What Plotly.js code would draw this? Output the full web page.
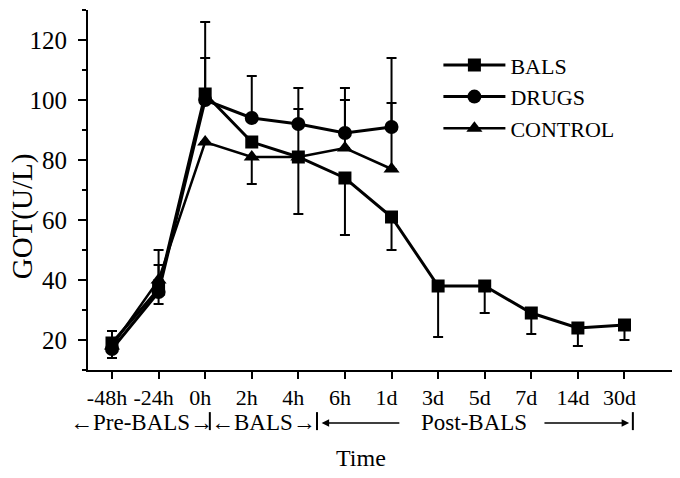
<!DOCTYPE html>
<html>
<head>
<meta charset="utf-8">
<script src="https://cdn.plot.ly/plotly-3.0.1.min.js"></script>
<style>html,body{margin:0;padding:0;background:#fff;}#chart{width:680px;height:478px;}</style>
</head>
<body>
<div id="chart"></div>
<script>
// Time points (x categories)
const categories = ["-48h", "-24h", "0h", "2h", "4h", "6h", "1d", "3d", "5d", "7d", "14d", "30d"];

// GOT (U/L) means
const balsValues    = [19, 37, 102, 86, 81, 74, 61, 38, 38, 29, 24, 25];
const drugsValues   = [17, 36, 100, 94, 92, 89, 91];
const controlValues = [18, 40, 86, 81, 81, 84, 77];

// Error bars (upper / lower extents)
const balsErrUp      = [4, 13, 24, 0, 0, 0, 0, 0, 0, 0, 0, 0];
const balsErrDown    = [5, 0, 0, 0, 19, 19, 11, 17, 9, 7, 6, 5];
const drugsErrUp     = [0, 0, 14, 14, 12, 15, 23];
const drugsErrDown   = [0, 4, 0, 0, 0, 0, 0];
const controlErrUp   = [0, 5, 0, 0, 16, 16, 22];
const controlErrDown = [0, 0, 0, 9, 0, 0, 0];

// Phase labels under the axis
const phaseLabels = ["\u2190Pre-BALS\u2192", "\u2190BALS\u2192", "Post-BALS"];

const FONT = "Liberation Serif, Times New Roman, serif";

function errY(up, down) {
  return {type: "data", symmetric: false, array: up, arrayminus: down,
          color: "#000", thickness: 2, width: 5, visible: true};
}

const traces = [
  {name: "BALS", x: categories.slice(0, balsValues.length), y: balsValues,
   mode: "lines+markers", line: {color: "#000", width: 3},
   marker: {symbol: "square", size: 13, color: "#000"},
   error_y: errY(balsErrUp, balsErrDown)},
  {name: "DRUGS", x: categories.slice(0, drugsValues.length), y: drugsValues,
   mode: "lines+markers", line: {color: "#000", width: 3},
   marker: {symbol: "circle", size: 14, color: "#000"},
   error_y: errY(drugsErrUp, drugsErrDown)},
  {name: "CONTROL", x: categories.slice(0, controlValues.length), y: controlValues,
   mode: "lines+markers", line: {color: "#000", width: 2.5},
   marker: {symbol: "triangle-up", size: 14, color: "#000"},
   error_y: errY(controlErrUp, controlErrDown)}
];

const rowY = -0.147; // paper y of the phase row
const barTop = -0.117, barBot = -0.167;
const bounds = [-0.84, 2.1, 4.4, 11.18];

const shapes = bounds.map(b => ({type: "line", xref: "x", yref: "paper",
  x0: b, x1: b, y0: barTop, y1: barBot, line: {color: "#000", width: 2}}));

const rowFont = {family: FONT, size: 23, color: "#000"};
const annotations = [
  {text: phaseLabels[0], xref: "x", yref: "paper", x: (bounds[0] + bounds[1]) / 2, y: rowY,
   yanchor: "middle", showarrow: false, font: rowFont},
  {text: phaseLabels[1], xref: "x", yref: "paper", x: (bounds[1] + bounds[2]) / 2, y: rowY,
   yanchor: "middle", showarrow: false, font: rowFont},
  {text: phaseLabels[2], xref: "x", yref: "paper", x: 7.78, y: rowY,
   yanchor: "middle", showarrow: false, font: rowFont},
  // long arrows for Post-BALS
  {text: "", xref: "x", yref: "paper", x: 4.5, y: rowY, axref: "x", ax: 6.2, ayref: "pixel", ay: 0,
   showarrow: true, arrowhead: 2, arrowsize: 1, arrowwidth: 1.5, arrowcolor: "#000"},
  {text: "", xref: "x", yref: "paper", x: 11.1, y: rowY, axref: "x", ax: 9.25, ayref: "pixel", ay: 0,
   showarrow: true, arrowhead: 2, arrowsize: 1, arrowwidth: 1.5, arrowcolor: "#000"},
  // y-axis title
  {text: "GOT(U/L)", xref: "paper", yref: "paper", x: -0.113, y: 0.427,
   xanchor: "center", yanchor: "middle", textangle: -90, showarrow: false,
   font: {family: FONT, size: 29, color: "#000"}},
  // x-axis title
  {text: "Time", xref: "x", yref: "paper", x: 5.35, y: -0.244,
   xanchor: "center", yanchor: "middle", showarrow: false,
   font: {family: FONT, size: 24, color: "#000"}}
];

const layout = {
  width: 680, height: 478,
  margin: {l: 88, r: 8, t: 10, b: 108},
  paper_bgcolor: "#fff", plot_bgcolor: "#fff",
  font: {family: FONT, color: "#000", size: 22},
  showlegend: true,
  legend: {x: 0.6, y: 0.905, xanchor: "left", yanchor: "top", itemwidth: 62,
           bgcolor: "rgba(0,0,0,0)", font: {family: FONT, size: 22, color: "#000"},
           tracegroupgap: 0},
  xaxis: {type: "category", categoryorder: "array", categoryarray: categories,
          range: [-0.515, 12.02], showline: true, linecolor: "#000", linewidth: 2,
          ticks: "outside", ticklen: 7, tickwidth: 2, tickcolor: "#000",
          showgrid: false, zeroline: false, ticklabelstandoff: 0, ticklabelshift: -5,
          tickfont: {family: FONT, size: 22, color: "#000"}},
  yaxis: {range: [10, 130], tick0: 0, dtick: 20, showline: true, linecolor: "#000", linewidth: 2,
          ticks: "outside", ticklen: 8, tickwidth: 2, tickcolor: "#000",
          minor: {dtick: 10, ticks: "outside", ticklen: 4, tickcolor: "#000"},
          showgrid: false, zeroline: false, ticklabelstandoff: 6,
          tickfont: {family: FONT, size: 25, color: "#000"}},
  shapes: shapes,
  annotations: annotations
};

Plotly.newPlot("chart", traces, layout, {displayModeBar: false, staticPlot: true});
</script>
</body>
</html>
